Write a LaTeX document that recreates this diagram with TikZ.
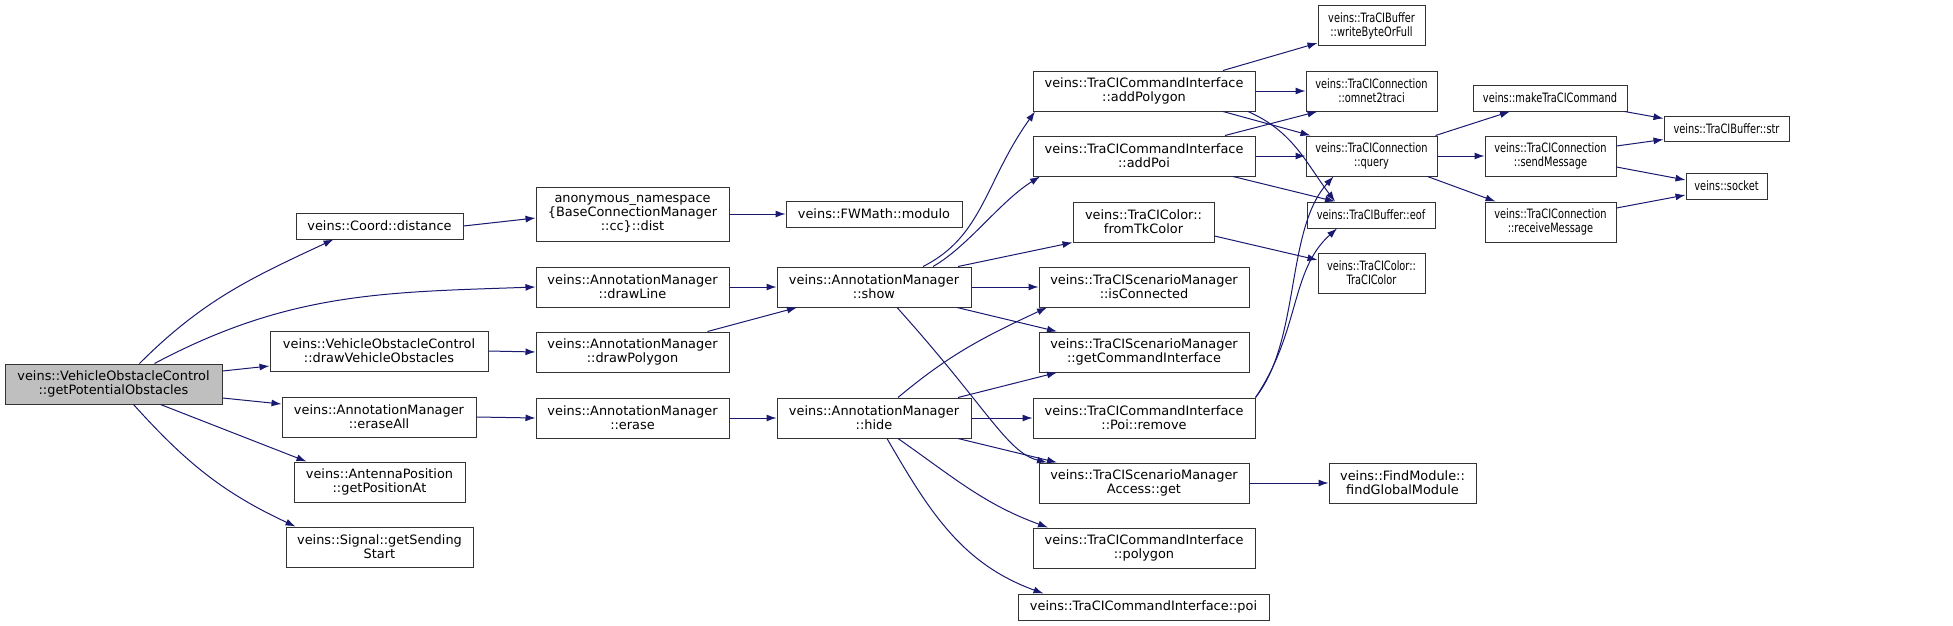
\documentclass[tikz,border=0pt]{standalone}
\usepackage{fontspec}
\setmainfont{DejaVu Sans}
\usepackage{graphicx}
\usetikzlibrary{arrows.meta}
\definecolor{edgeblue}{HTML}{191970}
\definecolor{rootgray}{HTML}{BFBFBF}
\newcommand{\cnd}[1]{\scalebox{0.76}[1]{#1}}

\begin{document}
\begin{tikzpicture}[x=1pt,y=1pt]
\tikzstyle{every node}+=[inner sep=0pt]
\tikzstyle{fn}=[draw=black!80, line width=1pt, rectangle, align=center, font=\fontsize{12.9}{14.3}\selectfont]
\tikzstyle{call}=[draw=edgeblue, line width=1pt, -{Latex[length=10pt,width=7pt]}]
\useasboundingbox (0,0) rectangle (1953,-626);
% first column
\node [fn, fill=rootgray, minimum width=217, minimum height=40] (root) at (113.5,-384) {veins::VehicleObstacleControl\\::getPotentialObstacles};
% second column
\node [fn, minimum width=167, minimum height=26] (dist) at (379.5,-226) {veins::Coord::distance};
\node [fn, minimum width=218, minimum height=40] (drawvo) at (379,-351) {veins::VehicleObstacleControl\\::drawVehicleObstacles};
\node [fn, minimum width=194, minimum height=40] (eraseall) at (379,-417) {veins::AnnotationManager\\::eraseAll};
\node [fn, minimum width=171, minimum height=40] (antenna) at (379.5,-482) {veins::AntennaPosition\\::getPositionAt};
\node [fn, minimum width=187, minimum height=40] (signal) at (379.5,-547) {veins::Signal::getSending\\Start};
% third column
\node [fn, minimum width=193, minimum height=54] (anondist) at (632.5,-214) {anonymous\_namespace\\\{BaseConnectionManager\\::cc\}::dist};
\node [fn, minimum width=193, minimum height=40] (drawline) at (632.5,-287) {veins::AnnotationManager\\::drawLine};
\node [fn, minimum width=193, minimum height=40] (drawpoly) at (632.5,-352) {veins::AnnotationManager\\::drawPolygon};
\node [fn, minimum width=193, minimum height=40] (erase) at (632.5,-418) {veins::AnnotationManager\\::erase};
% fourth column
\node [fn, minimum width=176, minimum height=26] (modulo) at (874,-214) {veins::FWMath::modulo};
\node [fn, minimum width=194, minimum height=40] (show) at (874,-287) {veins::AnnotationManager\\::show};
\node [fn, minimum width=194, minimum height=40] (hide) at (874,-418) {veins::AnnotationManager\\::hide};
% fifth column
\node [fn, minimum width=222, minimum height=40] (addpolygon) at (1144,-91) {veins::TraCICommandInterface\\::addPolygon};
\node [fn, minimum width=222, minimum height=40] (addpoi) at (1144,-156) {veins::TraCICommandInterface\\::addPoi};
\node [fn, minimum width=141, minimum height=40] (fromtk) at (1143.5,-222) {veins::TraCIColor::\\fromTkColor};
\node [fn, minimum width=210, minimum height=40] (isconn) at (1144,-287) {veins::TraCIScenarioManager\\::isConnected};
\node [fn, minimum width=210, minimum height=40] (getci) at (1144,-352) {veins::TraCIScenarioManager\\::getCommandInterface};
\node [fn, minimum width=222, minimum height=40] (poiremove) at (1144,-418) {veins::TraCICommandInterface\\::Poi::remove};
\node [fn, minimum width=210, minimum height=40] (accessget) at (1144,-483) {veins::TraCIScenarioManager\\Access::get};
\node [fn, minimum width=222, minimum height=40] (polygon) at (1144,-548) {veins::TraCICommandInterface\\::polygon};
\node [fn, minimum width=251, minimum height=26] (poi) at (1143.5,-607) {veins::TraCICommandInterface::poi};
% sixth column
\node [fn, minimum width=107, minimum height=40] (writebyte) at (1371.5,-26) {\cnd{veins::TraCIBuffer}\\\cnd{::writeByteOrFull}};
\node [fn, minimum width=131, minimum height=40] (omnet) at (1371.5,-91) {\cnd{veins::TraCIConnection}\\\cnd{::omnet2traci}};
\node [fn, minimum width=131, minimum height=40] (query) at (1371.5,-156) {\cnd{veins::TraCIConnection}\\\cnd{::query}};
\node [fn, minimum width=128, minimum height=26] (eof) at (1371,-215) {\cnd{veins::TraCIBuffer::eof}};
\node [fn, minimum width=107, minimum height=40] (tracicolor) at (1371.5,-273) {\cnd{veins::TraCIColor::}\\\cnd{TraCIColor}};
\node [fn, minimum width=147, minimum height=40] (findmod) at (1402.5,-483) {veins::FindModule::\\findGlobalModule};
% seventh column
\node [fn, minimum width=154, minimum height=26] (maketc) at (1550,-98) {\cnd{veins::makeTraCICommand}};
\node [fn, minimum width=131, minimum height=40] (sendmsg) at (1550.5,-156) {\cnd{veins::TraCIConnection}\\\cnd{::sendMessage}};
\node [fn, minimum width=131, minimum height=40] (recvmsg) at (1550.5,-222) {\cnd{veins::TraCIConnection}\\\cnd{::receiveMessage}};
% last column
\node [fn, minimum width=125, minimum height=25] (str) at (1726.5,-128.5) {\cnd{veins::TraCIBuffer::str}};
\node [fn, minimum width=81, minimum height=26] (socket) at (1726.5,-186) {\cnd{veins::socket}};
% calls from the root
\draw [call] ([xshift=26]root.north) to[out=45,in=205] ([xshift=-46]dist.south);
\draw [call] ([xshift=41]root.north) to[out=28,in=182] (drawline.west);
\draw [call] ([yshift=13]root.east) -- ([yshift=-15]drawvo.west);
\draw [call] ([yshift=-14]root.east) -- ([yshift=13]eraseall.west);
\draw [call] ([xshift=47]root.south) -- ([xshift=-73]antenna.north);
\draw [call] ([xshift=20]root.south) to[out=-48,in=155] ([xshift=-84]signal.north);
\draw [call] (dist.east) -- ([yshift=-4]anondist.west);
\draw [call] (anondist.east) -- (modulo.west);
\draw [call] (drawline.east) -- (show.west);
\draw [call] (drawvo.east) -- (drawpoly.west);
\draw [call] ([xshift=75]drawpoly.north) -- ([xshift=-77]show.south);
\draw [call] (eraseall.east) -- (erase.west);
\draw [call] (erase.east) -- (hide.west);
% show
\draw [call] ([xshift=49]show.north) .. controls +(60,30) and +(-50,-70) .. ([xshift=-109]addpolygon.south);
\draw [call] ([xshift=59]show.north) .. controls +(35,20) and +(-40,-25) .. ([xshift=-104]addpoi.south);
\draw [call] ([xshift=84]show.north) -- (fromtk.south west);
\draw [call] (show.east) -- (isconn.west);
\draw [call] ([xshift=83]show.south) -- ([xshift=-87]getci.north);
\draw [call] ([xshift=23]show.south) .. controls +(90,-100) and +(-40,10) .. ([xshift=-97]accessget.north);
% hide
\draw [call] ([xshift=24]hide.north) to[out=40,in=205] ([xshift=-97]isconn.south);
\draw [call] ([xshift=84]hide.north) -- ([xshift=-87]getci.south);
\draw [call] (hide.east) -- (poiremove.west);
\draw [call] ([xshift=84]hide.south) -- ([xshift=-87]accessget.north);
\draw [call] ([xshift=24]hide.south) to[out=-35,in=160] ([xshift=-96]polygon.north);
\draw [call] ([xshift=13]hide.south) to[out=-60,in=160] ([xshift=-100]poi.north);
% command interface
\draw [call] ([xshift=79]addpolygon.north) -- ([yshift=-17]writebyte.west);
\draw [call] (addpolygon.east) -- (omnet.west);
\draw [call] ([xshift=79]addpolygon.south) -- ([xshift=-61]query.north);
\draw [call] ([xshift=104]addpolygon.south) .. controls +(45,-20) and +(-30,40) .. ([xshift=-36]eof.north);
\draw [call] ([xshift=81]addpoi.north) -- ([xshift=-54]omnet.south);
\draw [call] (addpoi.east) -- (query.west);
\draw [call] ([xshift=89]addpoi.south) -- ([xshift=-36]eof.north);
\draw [call] ([yshift=-14]fromtk.east) -- ([yshift=13]tracicolor.west);
\draw [call] (poiremove.north east) .. controls +(45,57) and +(-48,-53) .. ([xshift=-38]query.south);
\draw [call] (poiremove.north east) .. controls +(45,67) and +(-47,-42) .. ([xshift=-34]eof.south);
\draw [call] (accessget.east) -- (findmod.west);
% connection
\draw [call] ([xshift=64]query.north) -- ([xshift=-40]maketc.south);
\draw [call] (query.east) -- (sendmsg.west);
\draw [call] ([xshift=56]query.south) -- ([xshift=-55]recvmsg.north);
\draw [call] ([xshift=-3]maketc.south east) -- ([yshift=10]str.west);
\draw [call] ([yshift=10]sendmsg.east) -- ([yshift=-11]str.west);
\draw [call] ([yshift=-11]sendmsg.east) -- ([yshift=6]socket.west);
\draw [call] ([yshift=14]recvmsg.east) -- ([yshift=-9]socket.west);
\end{tikzpicture}
\end{document}
